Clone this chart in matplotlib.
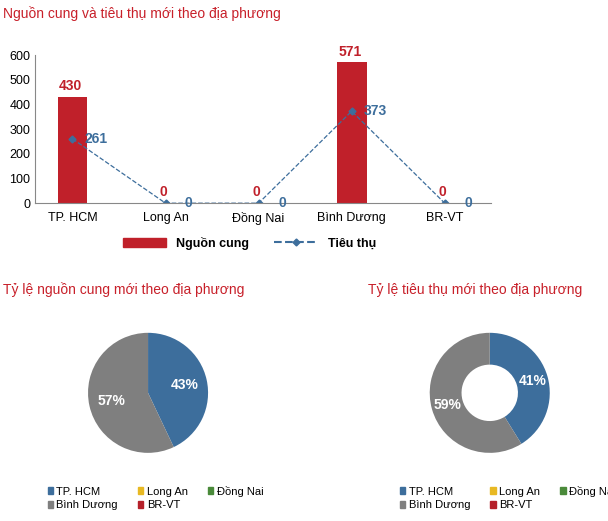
import matplotlib.pyplot as plt
import numpy as np
from matplotlib.patches import Patch
from matplotlib.lines import Line2D

plt.rcParams['font.family'] = ['Liberation Sans', 'DejaVu Sans']

regions = ["TP. HCM", "Long An", "Đồng Nai", "Bình Dương", "BR-VT"]
supply = [430, 0, 0, 571, 0]
absorb = [261, 0, 0, 373, 0]
pie_colors = ["#3d6e9c", "#e8b923", "#4a8a3a", "#7f7f7f", "#b5202a"]
red = "#c0202a"
blue = "#3d6e9c"
title_red = "#c8202a"

fig = plt.figure(figsize=(6.08, 5.21), dpi=100)

# bar/line chart
ax = fig.add_axes([0.058, 0.61, 0.75, 0.284])
x = np.arange(len(regions))
ax.bar(x, supply, width=0.32, color=red)
ax.plot(x, absorb, ls="--", color=blue, lw=0.9, marker="D", ms=3.5)
for i in x:
    ax.text(i - 0.02, supply[i] + 15, str(supply[i]), color=red, ha="center", va="bottom",
            fontsize=10, fontweight="bold")
    ax.text(i + 0.25, absorb[i], str(absorb[i]), color=blue, ha="center", va="center",
            fontsize=10, fontweight="bold")
ax.set_ylim(0, 600)
ax.set_xlim(-0.4, 4.5)
ax.set_yticks(range(0, 601, 100))
ax.set_xticks(x)
ax.set_xticklabels(regions, fontsize=9)
ax.tick_params(axis="y", labelsize=9, length=0)
ax.tick_params(axis="x", length=0, pad=6)
for s in ["top", "right"]:
    ax.spines[s].set_visible(False)
ax.spines["left"].set_color("#888888")
ax.spines["bottom"].set_color("#888888")
ax.legend(handles=[Patch(color=red, label="Nguồn cung"),
                   Line2D([], [], color=blue, ls="--", marker="D", ms=3.5, label="Tiêu thụ")],
          loc="upper center", bbox_to_anchor=(0.47, -0.15), ncol=2, frameon=False,
          prop={"size": 9, "weight": "bold"}, handlelength=3.5, columnspacing=2.0)
fig.text(0.005, 0.965, "Nguồn cung và tiêu thụ mới theo địa phương", color=title_red, fontsize=10)

# pies
fig.text(0.005, 0.435, "Tỷ lệ nguồn cung mới theo địa phương", color=title_red, fontsize=10)
fig.text(0.605, 0.435, "Tỷ lệ tiêu thụ mới theo địa phương", color=title_red, fontsize=10)

def pie(rect, vals, donut, lx):
    a = fig.add_axes(rect)
    wp = dict(width=0.53) if donut else None
    a.pie(vals, colors=pie_colors, startangle=90, counterclock=False, wedgeprops=wp)
    tot = sum(vals)
    r = 0.74 if donut else 0.62
    ang = 90
    for v in vals:
        if v == 0:
            continue
        th = np.deg2rad(ang - 360 * v / tot / 2)
        a.text(r * np.cos(th), r * np.sin(th), f"{round(100 * v / tot)}%", color="white",
               ha="center", va="center", fontsize=10, fontweight="bold")
        ang -= 360 * v / tot
    a.set_aspect("equal")
    # row-wise order in a 3-column legend
    order = [0, 3, 1, 4, 2]
    a.legend(handles=[Patch(color=pie_colors[k], label=regions[k]) for k in order],
             loc="upper left", bbox_to_anchor=(lx, -0.12), ncol=3,
             frameon=False, fontsize=8, handlelength=0.5, handleheight=0.6,
             handletextpad=0.3, columnspacing=1.8, labelspacing=0.3,
             borderaxespad=0, borderpad=0)
    return a

pie([0.12, 0.102, 0.247, 0.288], supply, False, -0.17)
pie([0.682, 0.102, 0.247, 0.288], absorb, True, -0.1)

fig.savefig("out.png", dpi=100)
